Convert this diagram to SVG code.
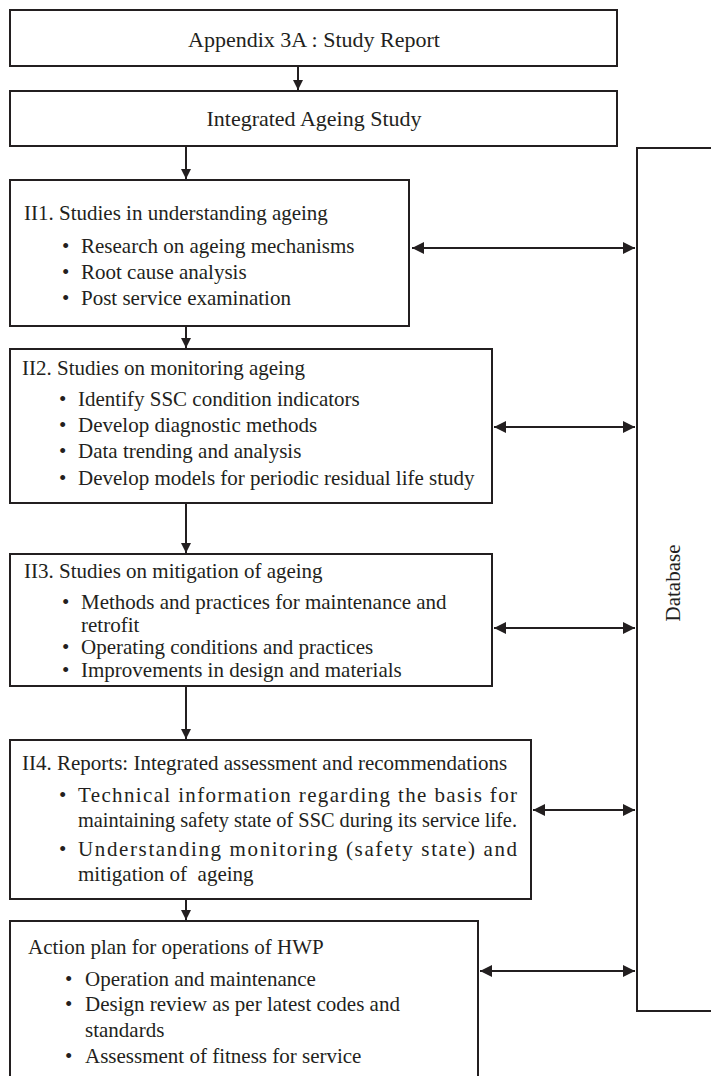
<svg xmlns="http://www.w3.org/2000/svg" width="711" height="1076" viewBox="0 0 711 1076">
<style>
.box{fill:#fff;stroke:#231f20;stroke-width:2}
.t{font-family:"Liberation Serif","Times New Roman",serif;font-size:21px;fill:#231f20}
.h{font-size:22px}
.c{text-anchor:middle}
.ln{stroke:#231f20;stroke-width:2;fill:none}
</style>
<defs>
<marker id="ah" markerUnits="userSpaceOnUse" markerWidth="14" markerHeight="14" refX="12" refY="7" orient="auto-start-reverse" viewBox="0 0 14 14">
<path d="M0,1 L12,7 L0,13 Z" fill="#231f20"/>
</marker>
<marker id="dh" markerUnits="userSpaceOnUse" markerWidth="12" markerHeight="12" refX="10" refY="6" orient="auto" viewBox="0 0 12 12">
<path d="M0,1 L10,6 L0,11 Z" fill="#231f20"/>
</marker>
</defs>
<rect width="711" height="1076" fill="#fff"/>

<g id="database">
<rect class="box" x="637" y="148" width="100" height="863"/>
<text class="t c" transform="translate(680,583) rotate(-90)">Database</text>
</g>

<g id="appendix">
<rect class="box" x="10" y="10" width="607" height="56"/>
<text class="t h c" x="314" y="47">Appendix 3A : Study Report</text>
</g>

<g id="integrated">
<rect class="box" x="10" y="91" width="607" height="55"/>
<text class="t h c" x="314" y="126">Integrated Ageing Study</text>
</g>

<g id="ii1">
<rect class="box" x="10" y="180" width="399" height="146"/>
<text class="t" x="24" y="220">II1. Studies in understanding ageing</text>
<text class="t" x="62" y="253">•</text><text class="t" x="81" y="253">Research on ageing mechanisms</text>
<text class="t" x="62" y="279">•</text><text class="t" x="81" y="279">Root cause analysis</text>
<text class="t" x="62" y="305">•</text><text class="t" x="81" y="305">Post service examination</text>
</g>

<g id="ii2">
<rect class="box" x="10" y="349" width="482" height="154"/>
<text class="t" x="22" y="375">II2. Studies on monitoring ageing</text>
<text class="t" x="59" y="406">•</text><text class="t" x="78" y="406">Identify SSC condition indicators</text>
<text class="t" x="59" y="432">•</text><text class="t" x="78" y="432">Develop diagnostic methods</text>
<text class="t" x="59" y="458">•</text><text class="t" x="78" y="458">Data trending and analysis</text>
<text class="t" x="59" y="485">•</text><text class="t" x="78" y="485">Develop models for periodic residual life study</text>
</g>

<g id="ii3">
<rect class="box" x="10" y="554" width="482" height="132"/>
<text class="t" x="24" y="578">II3. Studies on mitigation of ageing</text>
<text class="t" x="62" y="609">•</text><text class="t" x="81" y="609">Methods and practices for maintenance and</text>
<text class="t" x="81" y="632">retrofit</text>
<text class="t" x="62" y="654">•</text><text class="t" x="81" y="654">Operating conditions and practices</text>
<text class="t" x="62" y="677">•</text><text class="t" x="81" y="677">Improvements in design and materials</text>
</g>

<g id="ii4">
<rect class="box" x="10" y="740" width="521" height="159"/>
<text class="t" x="22" y="770">II4. Reports: Integrated assessment and recommendations</text>
<text class="t" x="59" y="802">•</text><text class="t" x="78" y="802" textLength="439" lengthAdjust="spacing">Technical information regarding the basis for</text>
<text class="t" x="78" y="827" textLength="439" lengthAdjust="spacingAndGlyphs">maintaining safety state of SSC during its service life.</text>
<text class="t" x="59" y="856">•</text><text class="t" x="78" y="856" textLength="439" lengthAdjust="spacing">Understanding monitoring (safety state) and</text>
<text class="t" x="78" y="881" style="white-space:pre">mitigation of  ageing</text>
</g>

<g id="action">
<rect class="box" x="10" y="921" width="468" height="170"/>
<text class="t" x="28" y="954">Action plan for operations of HWP</text>
<text class="t" x="65" y="986">•</text><text class="t" x="85" y="986">Operation and maintenance</text>
<text class="t" x="65" y="1011">•</text><text class="t" x="85" y="1011">Design review as per latest codes and</text>
<text class="t" x="85" y="1037">standards</text>
<text class="t" x="65" y="1063">•</text><text class="t" x="85" y="1063">Assessment of fitness for service</text>
</g>

<g id="connectors">
<line class="ln" x1="298" y1="66" x2="298" y2="90" marker-end="url(#dh)"/>
<line class="ln" x1="186" y1="146" x2="186" y2="179" marker-end="url(#dh)"/>
<line class="ln" x1="186" y1="326" x2="186" y2="348" marker-end="url(#dh)"/>
<line class="ln" x1="186" y1="503" x2="186" y2="553" marker-end="url(#dh)"/>
<line class="ln" x1="186" y1="686" x2="186" y2="739" marker-end="url(#dh)"/>
<line class="ln" x1="186" y1="899" x2="186" y2="920" marker-end="url(#dh)"/>
<line class="ln" x1="412" y1="248" x2="635" y2="248" marker-start="url(#ah)" marker-end="url(#ah)"/>
<line class="ln" x1="494" y1="427" x2="635" y2="427" marker-start="url(#ah)" marker-end="url(#ah)"/>
<line class="ln" x1="494" y1="628" x2="635" y2="628" marker-start="url(#ah)" marker-end="url(#ah)"/>
<line class="ln" x1="533" y1="810" x2="635" y2="810" marker-start="url(#ah)" marker-end="url(#ah)"/>
<line class="ln" x1="480" y1="971" x2="635" y2="971" marker-start="url(#ah)" marker-end="url(#ah)"/>
</g>
</svg>
